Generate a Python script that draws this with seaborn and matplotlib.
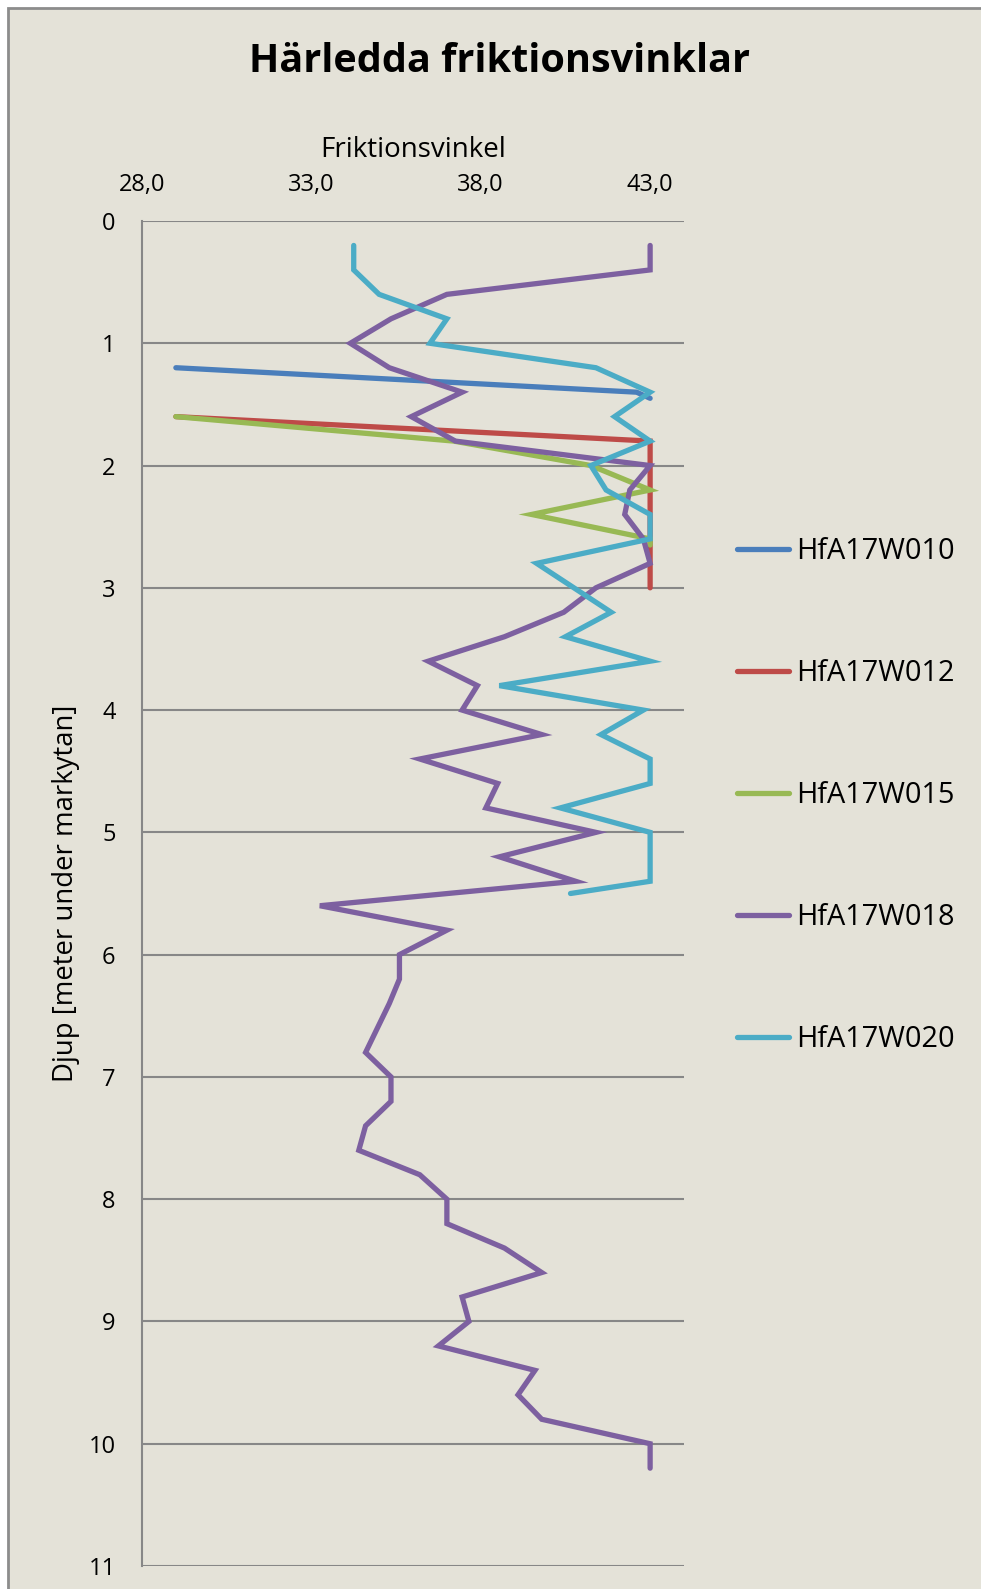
import pandas as pd
import matplotlib
matplotlib.use("Agg")
import matplotlib.pyplot as plt
import seaborn as sns
from matplotlib.patches import Rectangle
from matplotlib.ticker import FuncFormatter

# friction angle (x) vs depth (y) per borehole
w010_vinkel = [29.0, 42.6, 43.0]
w010_djup = [1.2, 1.4, 1.45]

w012_vinkel = [29.0, 43.0, 43.0, 43.0, 43.0, 43.0, 43.0, 43.0]
w012_djup = [1.6, 1.8, 2.0, 2.2, 2.4, 2.6, 2.8, 3.0]

w015_vinkel = [29.0, 37.2, 41.25, 43.0, 39.5, 43.0, 43.0]
w015_djup = [1.6, 1.8, 2.0, 2.2, 2.4, 2.6, 2.65]

w018_vinkel = [43.0, 43.0, 37.0, 35.35, 34.15, 35.3, 37.45, 35.95, 37.25, 43.0,
               42.4, 42.25, 42.8, 43.0, 41.4, 40.45, 38.7, 36.45, 37.9, 37.45,
               39.8, 36.2, 38.5, 38.15, 41.4, 38.55, 40.8, 33.25, 37.0, 35.6,
               35.6, 35.3, 34.95, 34.6, 35.35, 35.35, 34.6, 34.4, 36.2, 37.0,
               37.0, 38.7, 39.8, 37.45, 37.65, 36.75, 39.6, 39.1, 39.8, 43.0, 43.0]
w018_djup = [0.2, 0.4, 0.6, 0.8, 1.0, 1.2, 1.4, 1.6, 1.8, 2.0,
             2.2, 2.4, 2.6, 2.8, 3.0, 3.2, 3.4, 3.6, 3.8, 4.0,
             4.2, 4.4, 4.6, 4.8, 5.0, 5.2, 5.4, 5.6, 5.8, 6.0,
             6.2, 6.4, 6.6, 6.8, 7.0, 7.2, 7.4, 7.6, 7.8, 8.0,
             8.2, 8.4, 8.6, 8.8, 9.0, 9.2, 9.4, 9.6, 9.8, 10.0, 10.2]

w020_vinkel = [34.25, 34.25, 35.0, 37.0, 36.5, 41.4, 43.0, 41.95, 43.0, 41.25,
               41.7, 43.0, 43.0, 39.65, 40.75, 41.85, 40.5, 43.0, 38.55, 42.8,
               41.55, 43.0, 43.0, 40.35, 43.0, 43.0, 43.0, 40.65]
w020_djup = [0.2, 0.4, 0.6, 0.8, 1.0, 1.2, 1.4, 1.6, 1.8, 2.0,
             2.2, 2.4, 2.6, 2.8, 3.0, 3.2, 3.4, 3.6, 3.8, 4.0,
             4.2, 4.4, 4.6, 4.8, 5.0, 5.2, 5.4, 5.5]

serier = ["HfA17W010", "HfA17W012", "HfA17W015", "HfA17W018", "HfA17W020"]
farger = ["#4A7EBB", "#BE4B48", "#98B954", "#7D60A0", "#4BACC6"]

vinklar = [w010_vinkel, w012_vinkel, w015_vinkel, w018_vinkel, w020_vinkel]
djup = [w010_djup, w012_djup, w015_djup, w018_djup, w020_djup]

frames = []
for namn, v, d in zip(serier, vinklar, djup):
    frames.append(pd.DataFrame({"vinkel": v, "djup": d, "serie": namn}))
df = pd.concat(frames, ignore_index=True)

bg = "#E4E2D8"
sns.set_style("white")
plt.rcParams["font.family"] = ["Open Sans", "DejaVu Sans"]
plt.rcParams["text.color"] = "black"
plt.rcParams["axes.labelcolor"] = "black"

fig = plt.figure(figsize=(9.81, 15.89), dpi=100, facecolor="white")
fig.patches.append(Rectangle((8 / 981, -0.01), 1.0, 1 - 8 / 1589 + 0.01,
                             transform=fig.transFigure, facecolor=bg,
                             edgecolor="#8C8C8C", linewidth=2, zorder=-10))

ax = fig.add_axes([142 / 981, 1 - 1566 / 1589, 542 / 981, 1345 / 1589])
ax.set_facecolor(bg)

sns.lineplot(data=df, x="vinkel", y="djup", hue="serie", hue_order=serier,
             palette=dict(zip(serier, farger)), sort=False, estimator=None,
             orient="y", linewidth=3.8, solid_capstyle="round",
             solid_joinstyle="miter", ax=ax, legend=False)

ax.set_xlim(28, 44)
ax.set_ylim(11, 0)
ax.set_xticks([28, 33, 38, 43])
ax.set_yticks(range(0, 12))
ax.xaxis.set_major_formatter(FuncFormatter(lambda v, p: f"{v:.1f}".replace(".", ",")))
ax.xaxis.tick_top()
ax.xaxis.set_label_position("top")
ax.tick_params(axis="both", length=0, labelsize=17, colors="black")
ax.tick_params(axis="x", pad=17)
ax.tick_params(axis="y", pad=19)

ax.grid(axis="y", color="#878787", linewidth=1.5)
ax.grid(axis="x", visible=False)
for s in ["top", "right", "bottom"]:
    ax.spines[s].set_visible(False)
ax.spines["left"].set_color("#878787")
ax.spines["left"].set_linewidth(1.5)

ax.set_xlabel("Friktionsvinkel", fontsize=20, labelpad=12)
ax.set_ylabel("Djup [meter under markytan]", fontsize=19.8, labelpad=6)

fig.suptitle("Härledda friktionsvinklar", x=500 / 981, y=1 - 62 / 1589,
             va="center", fontsize=28.5, fontweight="bold", color="black")

handles = [plt.Line2D([], [], color=c, linewidth=3.8, solid_capstyle="round")
           for c in farger]
ax.legend(handles, serier, loc="upper left", bbox_to_anchor=(737 / 981, 1 - 537 / 1589),
          bbox_transform=fig.transFigure, frameon=False, fontsize=20.8,
          handlelength=1.8, handletextpad=0.25, labelspacing=3.22, borderpad=0,
          borderaxespad=0)

fig.savefig("out.png", dpi=100, facecolor="white")
